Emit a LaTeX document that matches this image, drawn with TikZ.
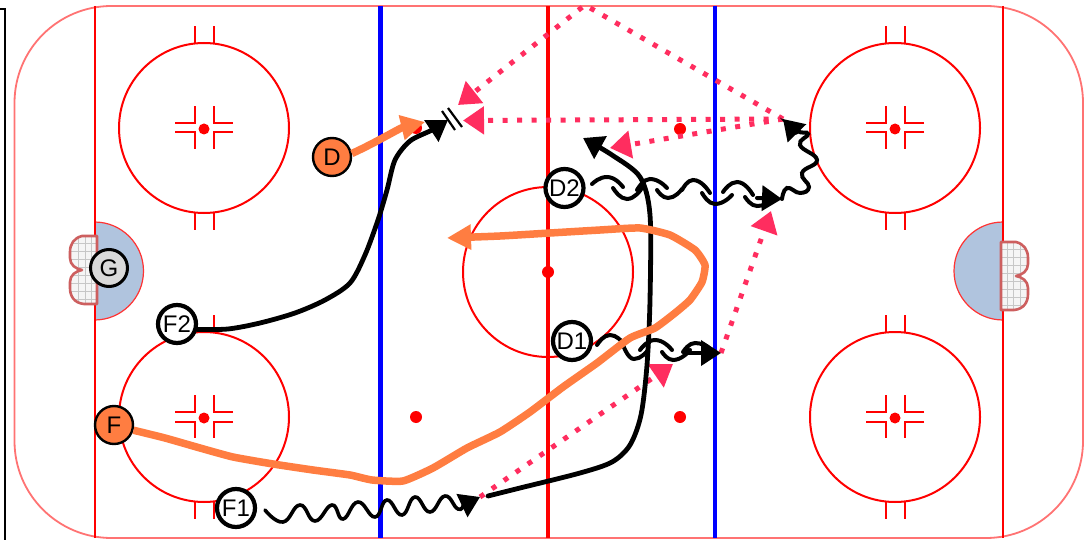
\documentclass[tikz,border=0pt]{standalone}
\usepackage{fontspec}
\setmainfont{Liberation Sans}
\usetikzlibrary{arrows.meta}
\definecolor{pinkpass}{RGB}{255,45,95}
\definecolor{orangeskate}{RGB}{255,125,65}
\definecolor{creasefill}{RGB}{176,196,222}
\definecolor{netred}{RGB}{205,95,95}
\tikzset{
  rinkline/.style={red,line width=2pt},
  player/.style={circle,draw=black,line width=4.2pt,fill=white,minimum size=38pt,inner sep=0pt,font=\fontsize{24}{24}\selectfont},
  oplayer/.style={player,fill=orangeskate,line width=2.4pt},
  gplayer/.style={player,fill=black!15,line width=3pt,minimum size=37pt},
  skate/.style={black,line width=4.8pt,line cap=round,line join=round},
  wave/.style={black,line width=4pt,line cap=round},
  bigwave/.style={wave,-{Triangle[length=20pt,width=25pt]}},
  skatetip/.style={skate,-{Triangle[length=20pt,width=25pt]}},
  orangepath/.style={orangeskate,line width=7.5pt,line join=round},
  orangetip/.style={-{Triangle[length=24pt,width=24pt]}},
  pass/.style={pinkpass,line width=5pt,dash pattern=on 5pt off 9.5pt,-{Triangle[length=21pt,width=27pt]}},
}
\newcommand{\netoutline}{(97,236) -- (82,236) .. controls (74,238) and (70,244) .. (70,252) -- (70,258) .. controls (70,265) and (76,269) .. (82,270) .. controls (76,271) and (70,275) .. (70,282) -- (70,288) .. controls (70,296) and (74,303) .. (84,304) -- (97,304) -- cycle}
\newcommand{\netdraw}{%
  \fill[white!96!black] \netoutline;
  \begin{scope}
    \clip \netoutline;
    \foreach \gx in {78,85,91} \draw[black!22,line width=.7pt] (\gx,230) -- (\gx,310);
    \foreach \gy in {243,251,259,267,275,283,291,299} \draw[black!22,line width=.7pt] (65,\gy) -- (100,\gy);
  \end{scope}
  \draw[netred,line width=2.6pt,line join=round] \netoutline;
}
\begin{document}
\begin{tikzpicture}[x=1pt,y=-1pt]
\useasboundingbox (0,0) rectangle (1092,540);
\fill[white] (0,0) rectangle (1092,540);
% frame on the left
\draw[black,line width=2.8pt] (0,9) -- (5,9) -- (5,540);
% rink
\draw[red!55,line width=1.8pt,rounded corners=97pt] (14.5,6) rectangle (1083,538);
\fill[creasefill] (94.5,222) arc[start angle=90,end angle=-90,radius=49pt] -- cycle;
\draw[red!80,line width=1.2pt] (94.5,222) arc[start angle=90,end angle=-90,radius=49pt];
\fill[creasefill] (1003,222) arc[start angle=90,end angle=270,radius=49pt] -- cycle;
\draw[red!80,line width=1.2pt] (1003,222) arc[start angle=90,end angle=270,radius=49pt];
\draw[rinkline] (94.5,6) -- (94.5,538);
\draw[rinkline] (1003,6) -- (1003,538);
\draw[blue,line width=4.4pt] (380.5,6) -- (380.5,538);
\draw[blue,line width=4.4pt] (715,6) -- (715,538);
\draw[red,line width=4.4pt] (548,6) -- (548,538);
\draw[rinkline] (548,272) circle[radius=85pt];
\foreach \cx/\cy in {204/128,204/417,895/128,895/417}{
  \draw[rinkline] (\cx,\cy) circle[radius=85pt];
  \fill[red] (\cx,\cy+1) circle[radius=5.5pt];
  \foreach \sx in {-1,1}{
    \draw[rinkline] (\cx+\sx*9.5,\cy-85) -- (\cx+\sx*9.5,\cy-102);
    \draw[rinkline] (\cx+\sx*9.5,\cy+85) -- (\cx+\sx*9.5,\cy+102);
    \draw[rinkline] (\cx+\sx*29,\cy-5) -- (\cx+\sx*9.5,\cy-5) -- (\cx+\sx*9.5,\cy-22);
    \draw[rinkline] (\cx+\sx*29,\cy+4.5) -- (\cx+\sx*9.5,\cy+4.5) -- (\cx+\sx*9.5,\cy+21);
  }
}
\foreach \dx/\dy in {548/272,416/417,680/417,416/128,680/129}
  \fill[red] (\dx,\dy) circle[radius=6pt];
% nets
\netdraw
\begin{scope}[shift={(1098,6)},xscale=-1]
  \netdraw
\end{scope}
% players
\node[gplayer] (g) at (109,268) {G};
\node[player] (f2) at (177,324) {F2};
\node[player] (f1) at (236,508) {F1};
\node[player] (d2) at (564.5,188) {D2};
\node[player] (d1) at (572,341) {D1};
\node[oplayer] (d) at (332,157) {D};
\node[oplayer] (f) at (114,425) {F};
% free ends
\coordinate (puck) at (448,120);
\coordinate (apex) at (585,5);
\coordinate (f1end) at (480,497);
\coordinate (d1end) at (721,353);
\coordinate (d2end) at (782,199);
\coordinate (d2top) at (783,119);
\coordinate (passA) at (458,105);
\coordinate (passB) at (463,120.5);
\coordinate (passC) at (610,148);
\coordinate (passD) at (673,364);
\coordinate (passE) at (771,211);
\coordinate (f1back) at (583,138);
\coordinate (ftip) at (447,238);
\coordinate (dtip) at (425,122);
% passes
\draw[pass] (d2top) -- (apex) -- (passA);
\draw[pass] (d2top) -- (passB);
\draw[pass] (d2top) -- (passC);
\draw[pass] (f1end) -- (passD);
\draw[pass] (d1end) -- (passE);
% black skating
\draw[skatetip] plot[smooth,tension=.5] coordinates {(f2.-15) (228,329) (260,323) (295,313) (325,300) (350,283) (365,255) (378,220) (387,190) (395,160) (410,141) (432,130) (puck)};
\draw[black,line width=2.2pt] (442,111) -- (455,130) (448,108) -- (462,127);
\draw[skatetip] plot[smooth,tension=.5] coordinates {(488,496) (520,488) (580,473) (612,462) (630,445) (641,415) (647,365) (650,300) (650,215) (640,177) (612,155) (f1back)};
% wavy skating
\draw[bigwave,line width=3.6pt] plot[smooth,tension=.8] coordinates {(265,510) (283,522) (300,505) (315,521) (332,505) (343,519) (358,502) (375,517) (387,500) (402,515) (415,497) (430,512) (445,496) (458,509) (466,504) (f1end)};
\draw[wave] (592,184) parabola bend (607,177) (623,187)
  (613,188) parabola bend (627,199) (642,188)
  (637,190) parabola bend (650,179) (667,188)
  (657,190) parabola bend (668,198) (682,189)
  (682,190) parabola bend (693,180) (710,193)
  (702,193) parabola bend (715,204) (732,195)
  (723,192) parabola bend (737,182) (753,195)
  (745,197) parabola bend (757,206) (768,203);
\draw[bigwave] (757,198) -- (d2end);
\draw[bigwave] plot[smooth,tension=.8] coordinates {(d2end) (787,188) (800,193) (809,187) (802,173) (817,160) (800,145) (808,134) (797,131) (d2top)};
\draw[wave] (597,345) parabola bend (610,335) (623,343)
  (623,345) parabola bend (634,359) (648,350)
  (640,350) parabola bend (655,340) (672,350)
  (662,352) parabola bend (673,360) (690,350)
  (683,352) parabola bend (695,343) (708,347);
\draw[bigwave] (687,353) -- (d1end);
% orange skating
\draw[orangepath,orangetip] (d.10) .. controls (375,143) and (400,128) .. (dtip);
\draw[orangepath,orangetip] plot[smooth,tension=.3] coordinates {(f.-15) (165,438) (200,448) (233,457) (273,464) (313,470) (350,475) (372,480) (403,481) (433,468) (467,448) (500,432) (530,412) (563,387) (597,363) (630,338) (655,328) (675,313) (690,300) (702,282) (705,265) (695,250) (670,235) (640,228) (600,230) (550,233) (500,236) (ftip)};
\end{tikzpicture}
\end{document}
